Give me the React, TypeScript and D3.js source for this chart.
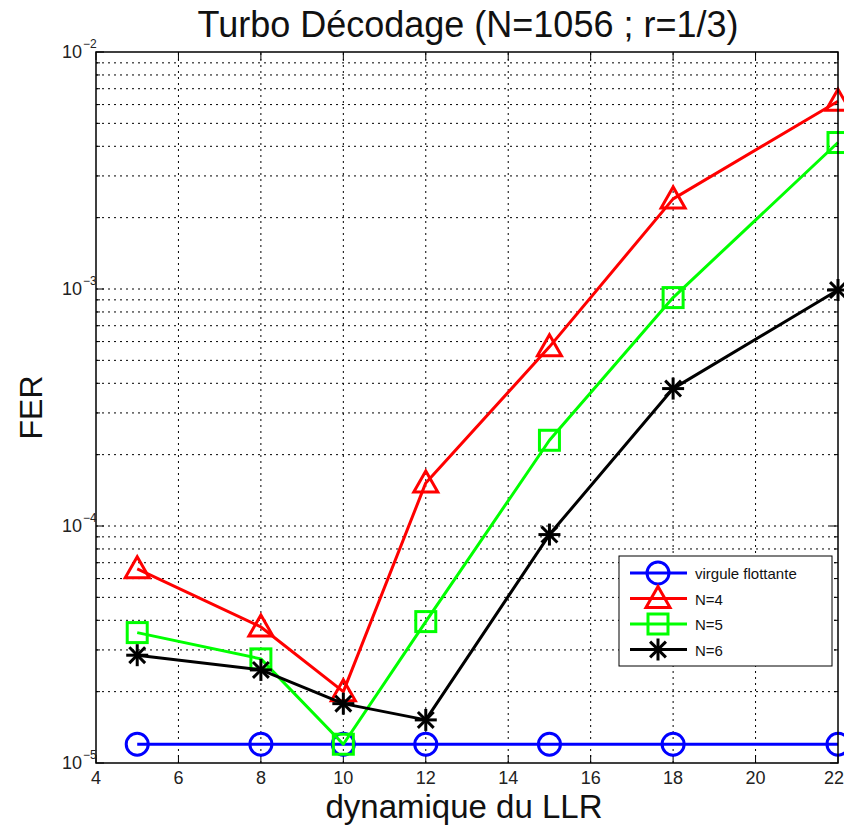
import React from "react";
import * as d3 from "d3";

const llr = [5, 8, 10, 12, 15, 18, 22];
const ferFloat = [1.2e-5, 1.2e-5, 1.2e-5, 1.2e-5, 1.2e-5, 1.2e-5, 1.2e-5];
const ferN4 = [6.6e-5, 3.75e-5, 2.0e-5, 1.52e-4, 5.7e-4, 2.4e-3, 6.2e-3];
const ferN5 = [3.55e-5, 2.75e-5, 1.2e-5, 3.95e-5, 2.3e-4, 9.2e-4, 4.15e-3];
const ferN6 = [2.85e-5, 2.47e-5, 1.78e-5, 1.52e-5, 9.2e-5, 3.8e-4, 9.9e-4];

const xTicks = [4, 6, 8, 10, 12, 14, 16, 18, 20, 22];
const yMajor = [1e-5, 1e-4, 1e-3, 1e-2];
const yExp = ["-5", "-4", "-3", "-2"];

const seriesNames = ["virgule flottante", "N=4", "N=5", "N=6"];
const seriesColors = ["#0000ff", "#ff0000", "#00ff00", "#000000"];
const seriesMarkers = ["circle", "triangle", "square", "star"];
const seriesValues = [ferFloat, ferN4, ferN5, ferN6];

const W = 844;
const H = 827;
const m = { left: 96, right: 6, top: 52, bottom: 64 };
const FONT = "'Liberation Sans', Arial, Helvetica, sans-serif";

function Marker({ kind, x, y, color }: { kind: string; x: number; y: number; color: string }) {
  const sw = 3;
  if (kind === "circle") {
    return <circle cx={x} cy={y} r={11} fill="none" stroke={color} strokeWidth={sw} />;
  }
  if (kind === "triangle") {
    const s = 12;
    const pts = `${x},${y - s} ${x - s},${y + s * 0.75} ${x + s},${y + s * 0.75}`;
    return <polygon points={pts} fill="none" stroke={color} strokeWidth={sw} />;
  }
  if (kind === "square") {
    const s = 10;
    return <rect x={x - s} y={y - s} width={2 * s} height={2 * s} fill="none" stroke={color} strokeWidth={sw} />;
  }
  // star: plus + cross
  const s = 11;
  const d = s * 0.72;
  return (
    <g stroke={color} strokeWidth={sw}>
      <line x1={x} y1={y - s} x2={x} y2={y + s} />
      <line x1={x - s} y1={y} x2={x + s} y2={y} />
      <line x1={x - d} y1={y - d} x2={x + d} y2={y + d} />
      <line x1={x - d} y1={y + d} x2={x + d} y2={y - d} />
    </g>
  );
}

export default function App() {
  const x = d3.scaleLinear().domain([4, 22]).range([m.left, W - m.right]);
  const y = d3.scaleLog().domain([1e-5, 1e-2]).range([H - m.bottom, m.top]);

  const minor: number[] = [];
  [1e-5, 1e-4, 1e-3].forEach((b) => {
    for (let k = 2; k <= 9; k++) minor.push(b * k);
  });

  const line = d3
    .line<[number, number]>()
    .x((d) => x(d[0]))
    .y((d) => y(d[1]));

  const x0 = m.left;
  const x1 = W - m.right;
  const y0 = H - m.bottom;
  const y1 = m.top;

  const legX = 619;
  const legY = 556;
  const legW = 213;
  const legH = 110;

  return (
    <svg
      width={W}
      height={H}
      style={{ position: "absolute", left: 0, top: 0, background: "#fff" }}
      fontFamily={FONT}
    >
      <rect x={0} y={0} width={W} height={H} fill="#fff" />
      {/* grid */}
      <g stroke="#000" strokeWidth={1} strokeDasharray="2,4">
        {xTicks.slice(1, -1).map((t) => (
          <line key={"gx" + t} x1={x(t)} x2={x(t)} y1={y0} y2={y1} />
        ))}
        {minor.concat(yMajor.slice(1, -1)).map((v, i) => (
          <line key={"gy" + i} x1={x0} x2={x1} y1={y(v)} y2={y(v)} />
        ))}
      </g>
      {/* ticks */}
      <g stroke="#000" strokeWidth={1}>
        {xTicks.map((t) => (
          <g key={"tx" + t}>
            <line x1={x(t)} x2={x(t)} y1={y0} y2={y0 - 8} />
            <line x1={x(t)} x2={x(t)} y1={y1} y2={y1 + 8} />
          </g>
        ))}
        {yMajor.map((v, i) => (
          <g key={"ty" + i}>
            <line x1={x0} x2={x0 + 8} y1={y(v)} y2={y(v)} />
            <line x1={x1} x2={x1 - 8} y1={y(v)} y2={y(v)} />
          </g>
        ))}
        {minor.map((v, i) => (
          <g key={"tm" + i}>
            <line x1={x0} x2={x0 + 4} y1={y(v)} y2={y(v)} />
            <line x1={x1} x2={x1 - 4} y1={y(v)} y2={y(v)} />
          </g>
        ))}
      </g>
      {/* series */}
      {seriesValues.map((vals, si) => (
        <g key={"s" + si}>
          <path
            d={line(llr.map((l, i) => [l, vals[i]]) as [number, number][]) || ""}
            fill="none"
            stroke={seriesColors[si]}
            strokeWidth={3}
            strokeLinejoin="round"
          />
          {llr.map((l, i) => (
            <Marker key={i} kind={seriesMarkers[si]} x={x(l)} y={y(vals[i])} color={seriesColors[si]} />
          ))}
        </g>
      ))}
      {/* frame */}
      <rect x={x0} y={y1} width={x1 - x0} height={y0 - y1} fill="none" stroke="#000" strokeWidth={1.5} />
      {/* tick labels */}
      <g fontSize={18} fill="#222">
        {xTicks.map((t) => (
          <text key={"lx" + t} x={Math.min(x(t), W - 10)} y={y0 + 21} textAnchor="middle">
            {t}
          </text>
        ))}
        {yMajor.map((v, i) => (
          <g key={"ly" + i}>
            <text x={x0 - 14} y={y(v) + 6} textAnchor="end">
              10
            </text>
            <text x={x0 - 13} y={y(v) - 4} fontSize={12} textAnchor="start">
              {yExp[i].replace("-", "\u2212")}
            </text>
          </g>
        ))}
      </g>
      {/* titles */}
      <text x={468} y={37} textAnchor="middle" fontSize={36} fill="#111">
        Turbo Décodage (N=1056 ; r=1/3)
      </text>
      <text x={464} y={818} textAnchor="middle" fontSize={33} fill="#111">
        dynamique du LLR
      </text>
      <text
        transform={`translate(42,${(y0 + y1) / 2}) rotate(-90)`}
        textAnchor="middle"
        fontSize={32}
        fill="#111"
      >
        FER
      </text>
      {/* legend */}
      <g>
        <rect x={legX} y={legY} width={legW} height={legH} fill="#fff" stroke="#000" strokeWidth={1} />
        {seriesNames.map((n, i) => {
          const cy = legY + 17 + i * 25.5;
          return (
            <g key={"lg" + i}>
              <line x1={legX + 11} x2={legX + 68} y1={cy} y2={cy} stroke={seriesColors[i]} strokeWidth={3} />
              <Marker kind={seriesMarkers[i]} x={legX + 39} y={cy} color={seriesColors[i]} />
              <text x={legX + 76} y={cy + 6} fontSize={15} fill="#111">
                {n}
              </text>
            </g>
          );
        })}
      </g>
    </svg>
  );
}
